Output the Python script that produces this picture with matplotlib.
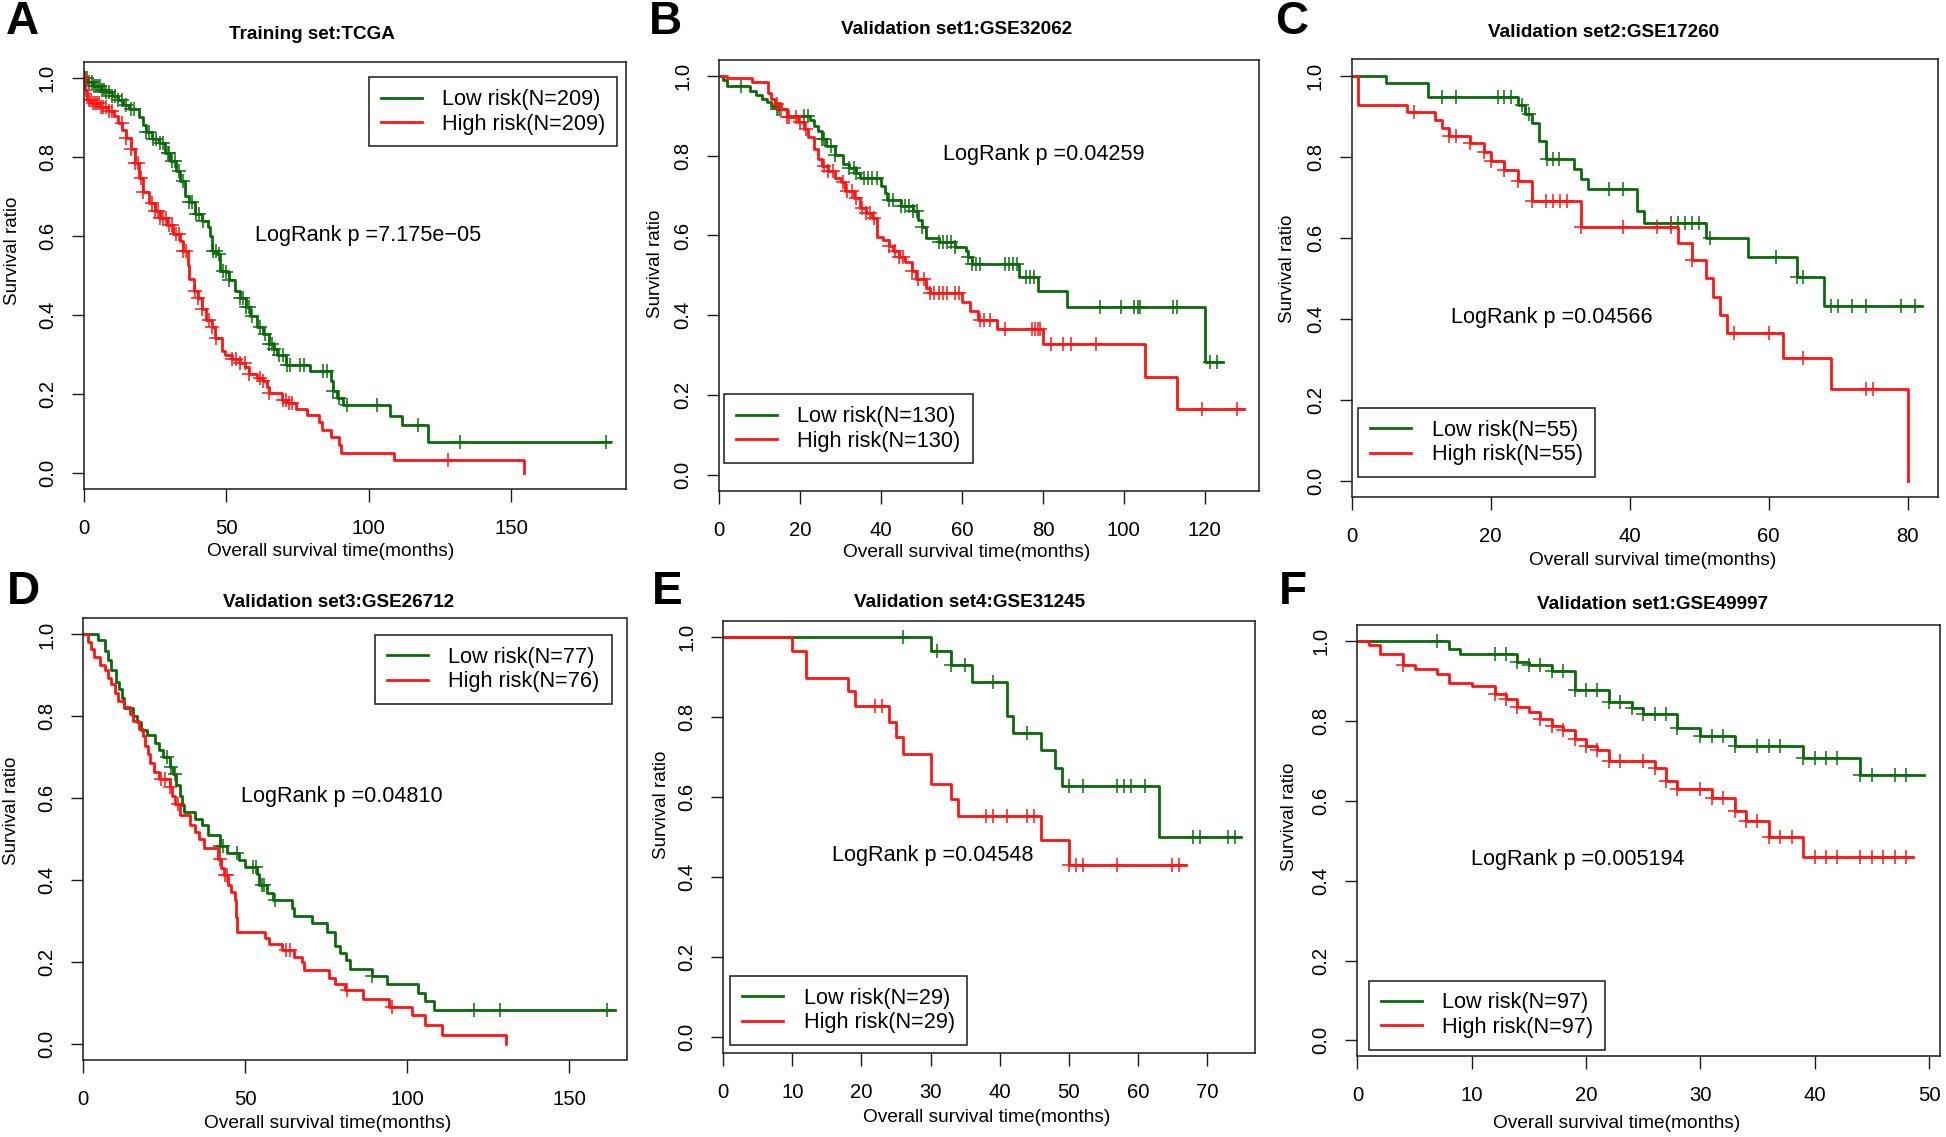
import numpy as np
import matplotlib
matplotlib.use("Agg")
import matplotlib.pyplot as plt
from matplotlib.lines import Line2D

plt.rcParams['font.family'] = ['Liberation Sans', 'DejaVu Sans']

# ---------------- data (months, survival ratio) ----------------
y_ticks = [0.0, 0.2, 0.4, 0.6, 0.8, 1.0]
y_ticklabels = ["0.0", "0.2", "0.4", "0.6", "0.8", "1.0"]

# Panel A: Training set TCGA
a_low_t = [0, 1.5, 3.5, 6, 8, 10, 12, 14, 16, 19.5, 21, 22, 24, 26.5, 28.5, 30.5, 32.5, 34, 35.5, 37,
           39, 41.5, 43.5, 44.5, 45, 47, 48, 50, 51, 53, 55, 57, 58.5, 61, 63, 65, 67, 68, 71, 79.5,
           86.7, 87.5, 89, 91, 107.5, 111.7, 120.8]
a_low_s = [1.0, 0.99, 0.98, 0.97, 0.965, 0.955, 0.945, 0.93, 0.922, 0.90, 0.88, 0.862, 0.844, 0.834, 0.81,
           0.79, 0.765, 0.738, 0.70, 0.687, 0.655, 0.637, 0.623, 0.60, 0.563, 0.554, 0.512, 0.508, 0.489,
           0.462, 0.443, 0.42, 0.397, 0.37, 0.351, 0.328, 0.315, 0.30, 0.273, 0.259, 0.232, 0.209, 0.19,
           0.172, 0.144, 0.121, 0.08]
a_low_end = 184.8
a_low_cens = [0.7, 1.4, 2.1, 2.9, 3.6, 4.3, 5.0, 5.7, 6.4, 7.2, 8.0, 8.9, 10, 11, 12.2, 13.6, 15, 16.5, 17.8,
              22, 23, 24.5, 25.5, 27, 28, 29.5, 30, 31, 32, 33.5, 35, 37, 38, 39.5, 40.5, 42, 45.5, 46.5,
              47.5, 49, 50, 51, 55, 56, 57, 58, 59, 62, 63.5, 65, 66, 67, 68.5, 70, 71.5, 72.5, 76, 77.5,
              84, 85.5, 87.5, 89.5, 92.5, 103, 117.5, 132, 183.4]
a_high_t = [0, 0.7, 1.4, 2.9, 5.7, 8.6, 10.7, 12, 13.6, 15, 16.5, 18, 19.3, 20.8, 23, 25, 27, 29.4, 31.5,
            33.7, 35, 36.5, 37, 38.7, 40, 41.5, 43, 45, 46, 48.7, 49.5, 52, 55, 56.6, 58, 61, 63, 64.5,
            65, 69.5, 71.6, 74.5, 78.5, 82.5, 83.5, 86.7, 89.6, 90.4, 108.9, 154.5]
a_high_s = [1.0, 0.97, 0.945, 0.936, 0.926, 0.917, 0.903, 0.885, 0.867, 0.848, 0.82, 0.784, 0.747, 0.71,
            0.683, 0.664, 0.646, 0.627, 0.604, 0.586, 0.563, 0.526, 0.49, 0.462, 0.443, 0.416, 0.388, 0.37,
            0.342, 0.31, 0.30, 0.29, 0.278, 0.268, 0.25, 0.24, 0.232, 0.218, 0.204, 0.186, 0.177, 0.163,
            0.147, 0.13, 0.109, 0.092, 0.071, 0.05, 0.033, 0.0]
a_high_end = 154.5
a_high_cens = [0.5, 1.0, 1.8, 2.5, 3.3, 4.0, 4.8, 5.5, 6.3, 7.0, 8.0, 9.0, 10.0, 13.5, 15.0, 16.5, 18.0,
               19.0, 20.0, 21.0, 24, 25, 26, 27, 28, 29, 30, 31, 32.5, 33.5, 35, 36, 39, 40, 41.5, 44, 45,
               46.5, 52, 53.5, 55, 56.5, 58, 62, 63, 65, 70, 71, 72, 73, 127.7]

# Panel B: GSE32062
b_low_t = [0, 0.9, 2, 7.6, 9, 10.7, 11.7, 12.7, 14.2, 16.8, 22.4, 23.5, 24.5, 25.5, 26.5, 28.6, 30.6, 32.2,
           33.7, 34.8, 39.9, 40.9, 41.4, 45, 48, 49.1, 50, 51, 54.2, 58.3, 60.9, 61.4, 62.4, 74.2, 78.8,
           86, 120]
b_low_s = [1.0, 0.989, 0.975, 0.962, 0.953, 0.943, 0.934, 0.925, 0.916, 0.90, 0.889, 0.875, 0.861, 0.843,
           0.825, 0.802, 0.779, 0.77, 0.757, 0.743, 0.725, 0.707, 0.688, 0.675, 0.661, 0.638, 0.62, 0.593,
           0.583, 0.57, 0.56, 0.547, 0.529, 0.497, 0.46, 0.421, 0.283]
b_low_end = 124.5
b_low_cens = [5.5, 14.2, 14.8, 20.9, 21.9, 25.5, 26, 27.6, 28.6, 32.2, 33.2, 33.7, 35.8, 36.8, 37.8, 38.9,
              41.9, 43, 45, 46, 47, 48, 49, 50.1, 54.2, 55.2, 56.2, 57.3, 58.3, 61.4, 62.4, 63.4, 64.5,
              70.6, 71.6, 72.7, 73.7, 75.8, 76.8, 77.8, 94.2, 99.3, 102.4, 103.4, 104, 112.2, 113.2,
              121.4, 122.9]
b_high_t = [0, 2, 8, 12, 12.7, 13.7, 15.3, 16.8, 19.4, 20.9, 21.9, 23.5, 24.5, 25.5, 27, 28.6, 30.1, 31.2,
            33.2, 34.8, 36.3, 37.8, 38.9, 40.4, 41.9, 43, 44.5, 46, 47.6, 48.6, 51.2, 52.2, 59.9, 61.9, 64,
            68.6, 79.9, 105.3, 113.2]
b_high_s = [1.0, 0.994, 0.985, 0.957, 0.943, 0.93, 0.916, 0.898, 0.884, 0.866, 0.848, 0.816, 0.793, 0.775,
            0.761, 0.743, 0.734, 0.711, 0.693, 0.67, 0.656, 0.643, 0.597, 0.588, 0.574, 0.56, 0.547, 0.533,
            0.51, 0.492, 0.469, 0.456, 0.433, 0.41, 0.387, 0.365, 0.328, 0.246, 0.164]
b_high_end = 129.6
b_high_cens = [14.2, 15.3, 16.8, 17.3, 18.9, 19.9, 21.4, 26, 27, 28.1, 30.6, 31.7, 32.7, 33.7, 35.3, 36.3,
               37.3, 38.3, 42, 43.5, 44.5, 45.5, 47.6, 49.1, 50.6, 52.2, 53.2, 54.2, 55.2, 56.3, 58.3, 59.3,
               64.5, 65.5, 67, 70.6, 77.3, 78, 78.7, 79.3, 81.9, 85, 87, 93.2, 119.3, 128]

# Panel C: GSE17260
c_low_t = [0, 5, 11, 24, 25, 26, 27, 28, 32, 33, 34, 41, 42, 51, 57, 64, 68]
c_low_s = [1.0, 0.981, 0.946, 0.927, 0.904, 0.882, 0.839, 0.795, 0.77, 0.746, 0.721, 0.667, 0.637, 0.599,
           0.553, 0.503, 0.431]
c_low_end = 82
c_low_cens = [13, 15, 21, 22, 23, 24.5, 25.5, 28.1, 29, 29.9, 37, 39, 46, 47, 48, 49, 50, 51.6, 61, 64, 65,
              69, 70, 72, 74, 79, 81]
c_high_t = [0, 1, 8, 12, 13, 14, 17, 19, 20, 22, 24, 26, 33, 47, 49, 51, 52, 53, 54, 62, 69, 80]
c_high_s = [1.0, 0.927, 0.91, 0.891, 0.871, 0.85, 0.834, 0.812, 0.79, 0.768, 0.741, 0.691, 0.627, 0.586,
            0.545, 0.501, 0.455, 0.409, 0.364, 0.303, 0.227, 0.0]
c_high_end = 80
c_high_cens = [9, 14, 15, 17, 19, 20, 22, 24, 26, 28, 29, 30, 31, 33, 39, 44, 46, 49, 55, 60, 65, 74, 75]

# Panel D: GSE26712
d_low_t = [0, 4.5, 6.8, 7.7, 8.6, 10.2, 11, 11.8, 12.7, 15.2, 16.5, 17.8, 19.6, 22.2, 23.4, 24.7, 26.6, 27.8,
           28.7, 29.7, 30.6, 31.2, 34.5, 36.6, 38.5, 42.3, 44.2, 48, 49.9, 53.7, 54.3, 56.8, 58.4, 64.4, 65,
           70.7, 75.1, 77.6, 79.1, 81.1, 82.4, 89, 93.7, 103.4, 105.3, 108.2]
d_low_s = [1.0, 0.987, 0.96, 0.938, 0.912, 0.885, 0.867, 0.845, 0.82, 0.80, 0.786, 0.767, 0.754, 0.735,
           0.717, 0.701, 0.677, 0.66, 0.633, 0.606, 0.584, 0.566, 0.55, 0.535, 0.51, 0.484, 0.465, 0.449,
           0.432, 0.414, 0.387, 0.369, 0.35, 0.332, 0.312, 0.294, 0.274, 0.239, 0.221, 0.204, 0.183, 0.166,
           0.146, 0.124, 0.104, 0.081]
d_low_end = 163.9
d_low_cens = [25.7, 27.2, 28.2, 42.3, 43, 47.4, 52.4, 53.4, 55, 55.9, 59.3, 89, 120.4, 128.6, 161.7]
d_high_t = [0, 1.4, 2.3, 3.3, 5.2, 6.8, 7.7, 8.6, 9.8, 10.8, 12.7, 14.4, 15.2, 17.1, 18.4, 19, 19.9, 20.7,
            21.9, 23.4, 26.6, 27.5, 28.2, 29.7, 32.9, 34.5, 35.8, 37.3, 41.7, 42.6, 43.3, 44.8, 45.5, 46.7,
            47.1, 47.5, 56.2, 57.4, 61.2, 65, 67.5, 68.1, 75.7, 77.8, 80.7, 86.4, 94.2, 101.5, 105.5, 110.6,
            130.5]
d_high_s = [1.0, 0.982, 0.965, 0.944, 0.925, 0.912, 0.894, 0.878, 0.858, 0.838, 0.823, 0.805, 0.788, 0.77,
            0.752, 0.727, 0.708, 0.686, 0.664, 0.646, 0.628, 0.606, 0.585, 0.558, 0.535, 0.518, 0.50, 0.478,
            0.451, 0.429, 0.412, 0.388, 0.37, 0.35, 0.31, 0.274, 0.257, 0.243, 0.23, 0.212, 0.199, 0.179,
            0.161, 0.146, 0.13, 0.11, 0.09, 0.071, 0.046, 0.022, 0.0]
d_high_end = 130.5
d_high_cens = [24.1, 25.3, 26.6, 29.1, 42.3, 43.6, 44.2, 62.5, 63.7, 81.4, 95.2]

# Panel E: GSE31245
e_low_t = [0, 30, 33, 36, 41, 42, 46, 48, 49, 63]
e_low_s = [1.0, 0.965, 0.928, 0.887, 0.802, 0.759, 0.716, 0.671, 0.626, 0.50]
e_low_end = 75
e_low_cens = [26, 31, 33, 35, 39, 44, 50, 52, 57, 58, 59, 61, 68, 69, 73, 74]
e_high_t = [0, 10, 12, 18, 19, 24, 25, 26, 30, 33, 34, 46, 50]
e_high_s = [1.0, 0.965, 0.897, 0.863, 0.827, 0.786, 0.748, 0.707, 0.631, 0.593, 0.551, 0.492, 0.429]
e_high_end = 67
e_high_cens = [22, 23, 38, 39, 41, 44, 45, 50, 51, 52, 57, 65, 66]

# Panel F: GSE49997
f_low_t = [0, 8, 9, 14, 15, 17, 19, 22, 24, 25, 28, 30, 33, 39, 44]
f_low_s = [1.0, 0.979, 0.968, 0.948, 0.939, 0.925, 0.878, 0.847, 0.833, 0.818, 0.782, 0.761, 0.738, 0.708,
           0.664]
f_low_end = 49.6
f_low_cens = [7, 12, 13, 14, 15, 16, 17, 18, 19, 20, 21, 22, 23, 24, 25, 26, 27, 28, 30, 31, 32, 33, 35, 36,
              37, 39, 40, 41, 42, 44, 45, 47, 48]
f_high_t = [0, 1, 2, 4, 5, 7, 8, 10, 12, 13, 14, 15, 16, 17, 18, 19, 20, 21, 22, 26, 27, 28, 31, 33, 34, 36, 39]
f_high_s = [1.0, 0.989, 0.968, 0.939, 0.93, 0.917, 0.896, 0.887, 0.867, 0.855, 0.835, 0.823, 0.804, 0.788,
            0.776, 0.754, 0.738, 0.727, 0.699, 0.681, 0.649, 0.63, 0.607, 0.575, 0.55, 0.51, 0.458]
f_high_end = 48.6
f_high_cens = [4, 12, 13, 14, 16, 17, 18, 19, 20, 21, 22, 23, 25, 26, 27, 28, 30, 31, 32, 33, 34, 35, 36, 37,
               38, 40, 41, 42, 44, 45, 46, 47, 48]

titles = ["Training set:TCGA", "Validation set1:GSE32062", "Validation set2:GSE17260",
          "Validation set3:GSE26712", "Validation set4:GSE31245", "Validation set1:GSE49997"]
letters = ["A", "B", "C", "D", "E", "F"]
low_labels = ["Low risk(N=209)", "Low risk(N=130)", "Low risk(N=55)",
              "Low risk(N=77)", "Low risk(N=29)", "Low risk(N=97)"]
high_labels = ["High risk(N=209)", "High risk(N=130)", "High risk(N=55)",
               "High risk(N=76)", "High risk(N=29)", "High risk(N=97)"]
pvalues = ["LogRank p =7.175e\u221205", "LogRank p =0.04259", "LogRank p =0.04566",
           "LogRank p =0.04810", "LogRank p =0.04548", "LogRank p =0.005194"]
x_ticks = [[0, 50, 100, 150], [0, 20, 40, 60, 80, 100, 120], [0, 20, 40, 60, 80],
           [0, 50, 100, 150], [0, 10, 20, 30, 40, 50, 60, 70], [0, 10, 20, 30, 40, 50]]
x_max = [190.2, 133.3, 84.3, 167.6, 77.0, 50.95]

# ---------------- layout (figure pixels) ----------------
W, H = 1946, 1137
fig = plt.figure(figsize=(W / 100, H / 100), dpi=100)

GREEN = '#0b6b0b'
RED = '#ff1414'
INK = '#1a1a1a'

boxes = [(83.5, 625.7, 62, 489), (719.2, 1258.6, 60, 490.7), (1351.5, 1937.7, 59.3, 497.3),
         (83.3, 626.5, 618.1, 1060), (723.3, 1255.3, 620.6, 1052.8), (1357.4, 1939.8, 625, 1056.4)]
title_pos = [(311.8, 34.5), (956.7, 29), (1603.2, 32.7), (338.4, 602.5), (969.6, 602.5), (1653, 604.4)]
letter_pos = [(22.5, 22), (665.5, 22.5), (1292, 22.5), (23.5, 592), (667, 592.5), (1293, 592)]
ylab_pos = [(12.5, 251), (655, 264), (1287, 269), (12, 810.5), (662, 805), (1289, 816.7)]
xlab_pos = [(331, 551.7), (966.5, 552.5), (1653, 560), (328, 1123.4), (986.2, 1118), (1616.8, 1123.3)]
pval_pos = [(255, 235.5), (942.7, 154.5), (1451, 317.3), (240.8, 796.8), (831.5, 855.7), (1470.8, 859.3)]
leg_pos = [(368.6, 77.4), (723.7, 394.4), (1358, 408), (374.7, 635.1), (730, 976.1), (1368.7, 980.5)]

curves = [
    ((a_low_t, a_low_s, a_low_end, a_low_cens), (a_high_t, a_high_s, a_high_end, a_high_cens)),
    ((b_low_t, b_low_s, b_low_end, b_low_cens), (b_high_t, b_high_s, b_high_end, b_high_cens)),
    ((c_low_t, c_low_s, c_low_end, c_low_cens), (c_high_t, c_high_s, c_high_end, c_high_cens)),
    ((d_low_t, d_low_s, d_low_end, d_low_cens), (d_high_t, d_high_s, d_high_end, d_high_cens)),
    ((e_low_t, e_low_s, e_low_end, e_low_cens), (e_high_t, e_high_s, e_high_end, e_high_cens)),
    ((f_low_t, f_low_s, f_low_end, f_low_cens), (f_high_t, f_high_s, f_high_end, f_high_cens)),
]


def ftext(x, y, s, **kw):
    fig.text(x / W, 1 - y / H, s, **kw)


def km(ax, t, s, end, cens, color):
    t = np.asarray(t, float)
    s = np.asarray(s, float)
    xs = np.append(t, end)
    ys = np.append(s, s[-1])
    ax.step(xs, ys, where='post', color=color, lw=2.0)
    c = np.asarray(cens, float)
    idx = np.searchsorted(t, c, side='right') - 1
    ax.plot(c, s[idx], ls='none', marker='+', ms=10, mew=1.1, color=color)


for i in range(6):
    L, R, T, B = boxes[i]
    ax = fig.add_axes([L / W, 1 - B / H, (R - L) / W, (B - T) / H])
    low, high = curves[i]
    km(ax, *low, GREEN)
    km(ax, *high, RED)
    ax.set_xlim(0, x_max[i])
    ax.set_ylim(-0.04, 1.04)
    ax.set_xticks(x_ticks[i])
    ax.set_xticklabels([str(v) for v in x_ticks[i]])
    ax.set_yticks(y_ticks)
    ax.set_yticklabels(y_ticklabels)
    ax.tick_params(direction='out', length=9, width=1.0, color=INK, labelsize=14.6,
                   top=False, right=False)
    ax.tick_params(axis='x', pad=12.5)
    ax.tick_params(axis='y', pad=10.2)
    plt.setp(ax.get_yticklabels(), rotation=90, va='center')
    for sp in ax.spines.values():
        sp.set_linewidth(1.1)
        sp.set_color(INK)

    lx, ly = leg_pos[i]
    handles = [Line2D([], [], color=GREEN, lw=2.0), Line2D([], [], color=RED, lw=2.0)]
    leg = ax.legend(handles, [low_labels[i], high_labels[i]], loc='upper left',
                    bbox_to_anchor=((lx - L) / (R - L), (B - ly) / (B - T)), borderaxespad=0,
                    fancybox=False, edgecolor=INK, framealpha=1, fontsize=15.6,
                    handlelength=1.9, handletextpad=0.95, borderpad=0.55, labelspacing=0.15)
    leg.get_frame().set_linewidth(1.1)

    px_, py_ = pval_pos[i]
    ftext(px_, py_, pvalues[i], fontsize=15.6, ha='left', va='center')
    tx, ty = title_pos[i]
    ftext(tx, ty, titles[i], fontsize=13.6, fontweight='bold', ha='center', va='center')
    lx2, ly2 = letter_pos[i]
    ftext(lx2, ly2, letters[i], fontsize=33, fontweight='bold', ha='center', va='center')
    yx, yy = ylab_pos[i]
    ftext(yx, yy, "Survival ratio", fontsize=13.5, rotation=90, ha='center', va='center')
    xx, xy = xlab_pos[i]
    ftext(xx, xy, "Overall survival time(months)", fontsize=13.8, ha='center', va='center')

fig.savefig("out.png", dpi=100, facecolor='white')
